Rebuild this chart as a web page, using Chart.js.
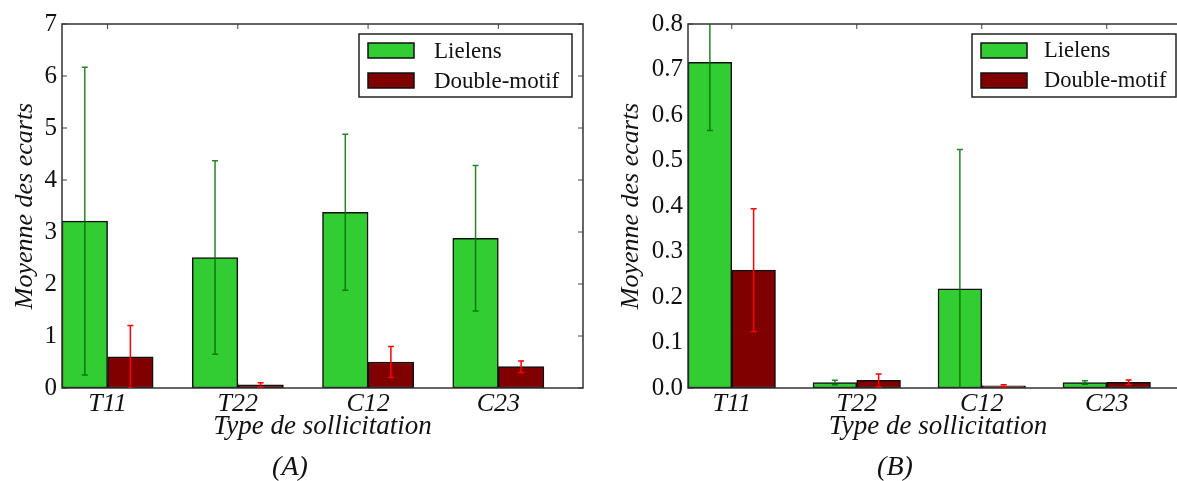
<!DOCTYPE html>
<html>
<head>
<meta charset="utf-8">
<script src="https://cdn.jsdelivr.net/npm/chart.js@4.4.0/dist/chart.umd.min.js"></script>
<style>
html, body { margin: 0; padding: 0; background: #fff; overflow: hidden; width: 1177px; height: 481px; }
.wrap { position: absolute; top: 0; height: 481px; overflow: hidden; }
#wrapA { left: 0; width: 600px; }
#wrapB { left: 600px; width: 577px; }
canvas { position: absolute; top: 0; left: 0; }
.panel { position: absolute; top: 450px; font: italic 28px 'Liberation Serif', serif; color: #111; transform: translateX(-50%); }
</style>
</head>
<body>
<div class="wrap" id="wrapA"><canvas id="chartA" width="600" height="481"></canvas></div>
<div class="wrap" id="wrapB"><canvas id="chartB" width="605" height="481"></canvas></div>
<div class="panel" style="left:290px">(A)</div>
<div class="panel" style="left:895px">(B)</div>
<script>
const categories = ['T11', 'T22', 'C12', 'C23'];
const seriesNames = ['Lielens', 'Double-motif'];

// (A)
const lielensA = [3.21, 2.51, 3.38, 2.88];
const lielensErrA = [2.96, 1.86, 1.50, 1.40];
const doubleA = [0.60, 0.06, 0.50, 0.41];
const doubleErrA = [0.60, 0.04, 0.30, 0.11];

// (B)
const lielensB = [0.716, 0.012, 0.218, 0.012];
const lielensErrB = [0.150, 0.005, 0.306, 0.004];
const doubleB = [0.259, 0.017, 0.005, 0.0125];
const doubleErrB = [0.135, 0.014, 0.002, 0.005];

const serif = "'Liberation Serif', 'DejaVu Serif', serif";
const BAR_W = 0.35;

// barres d'erreur
const errorBars = {
    id: 'errorBars',
    afterDatasetsDraw(chart) {
        const ctx = chart.ctx;
        const area = chart.chartArea;
        const y = chart.scales.y;
        ctx.save();
        ctx.beginPath();
        ctx.rect(area.left, area.top, area.width, area.height);
        ctx.clip();
        chart.data.datasets.forEach((ds, i) => {
            const meta = chart.getDatasetMeta(i);
            ctx.strokeStyle = ds.errorColor;
            ctx.lineWidth = 1.5;
            meta.data.forEach((bar, j) => {
                const v = ds.data[j].y;
                const e = ds.errors[j];
                const top = y.getPixelForValue(v + e);
                const bot = y.getPixelForValue(v - e);
                ctx.beginPath();
                ctx.moveTo(bar.x, top); ctx.lineTo(bar.x, bot);
                ctx.moveTo(bar.x - 3, top); ctx.lineTo(bar.x + 3, top);
                ctx.moveTo(bar.x - 3, bot); ctx.lineTo(bar.x + 3, bot);
                ctx.stroke();
            });
        });
        ctx.restore();
    }
};

// cadre + graduations vers l'interieur
const frame = {
    id: 'frame',
    beforeDatasetsDraw(chart) {
        const ctx = chart.ctx;
        const a = chart.chartArea;
        ctx.save();
        ctx.strokeStyle = '#444';
        ctx.lineWidth = 1;
        ctx.beginPath();
        chart.scales.x.ticks.forEach(t => {
            const px = chart.scales.x.getPixelForValue(t.value);
            ctx.moveTo(px, a.top); ctx.lineTo(px, a.top + 5);
            ctx.moveTo(px, a.bottom); ctx.lineTo(px, a.bottom - 5);
        });
        chart.scales.y.ticks.forEach(t => {
            const py = chart.scales.y.getPixelForValue(t.value);
            ctx.moveTo(a.left, py); ctx.lineTo(a.left + 5, py);
            ctx.moveTo(a.right, py); ctx.lineTo(a.right - 5, py);
        });
        ctx.stroke();
        ctx.restore();
    },
    afterDatasetsDraw(chart) {
        const ctx = chart.ctx;
        const a = chart.chartArea;
        ctx.save();
        ctx.strokeStyle = '#333';
        ctx.lineWidth = 1.5;
        ctx.strokeRect(a.left, a.top, a.width, a.height);
        ctx.restore();
    }
};

// legende dans le coin haut droit
const boxLegend = {
    id: 'boxLegend',
    afterDraw(chart, args, opts) {
        const ctx = chart.ctx;
        const a = chart.chartArea;
        const w = opts.width;
        const left = a.right - opts.inset - w;
        const top = a.top + 10;
        ctx.save();
        ctx.fillStyle = '#fff';
        ctx.fillRect(left, top, w, 63);
        ctx.strokeStyle = '#222';
        ctx.lineWidth = 1.5;
        ctx.strokeRect(left, top, w, 63);
        chart.data.datasets.forEach((ds, i) => {
            const cy = top + 16.5 + i * 30;
            ctx.fillStyle = ds.backgroundColor;
            ctx.fillRect(left + 9, cy - 7.5, 46, 15);
            ctx.strokeStyle = '#111';
            ctx.strokeRect(left + 9, cy - 7.5, 46, 15);
            ctx.fillStyle = '#111';
            ctx.font = opts.fontSize + 'px ' + serif;
            ctx.textBaseline = 'middle';
            ctx.fillText(ds.label, left + opts.textX, cy + 1);
        });
        ctx.restore();
    }
};

function makeChart(id, lielens, lielensErr, dbl, dblErr, cfg) {
    return new Chart(document.getElementById(id).getContext('2d'), {
        type: 'bar',
        data: {
            datasets: [{
                label: seriesNames[0],
                data: lielens.map((v, i) => ({ x: i + BAR_W / 2, y: v })),
                errors: lielensErr,
                errorColor: 'rgba(0, 110, 0, 0.85)',
                backgroundColor: '#32cd32',
                borderColor: '#111',
                borderWidth: 1.5,
                borderSkipped: false
            }, {
                label: seriesNames[1],
                data: dbl.map((v, i) => ({ x: i + BAR_W * 1.5, y: v })),
                errors: dblErr,
                errorColor: '#ff0000',
                backgroundColor: '#800000',
                borderColor: '#111',
                borderWidth: 1.5,
                borderSkipped: false
            }]
        },
        options: {
            responsive: false,
            animation: false,
            grouped: false,
            categoryPercentage: 1,
            barPercentage: 1,
            layout: { padding: { top: 24, right: 17, bottom: 0, left: 0 } },
            plugins: {
                legend: { display: false },
                tooltip: { enabled: false },
                boxLegend: cfg.legend
            },
            scales: {
                x: {
                    type: 'linear',
                    min: 0,
                    max: 4,
                    offset: false,
                    grid: { display: false, drawTicks: false },
                    border: { display: false },
                    afterBuildTicks: s => { s.ticks = categories.map((c, i) => ({ value: i + BAR_W })); },
                    afterFit: s => { s.height = 93; },
                    ticks: {
                        autoSkip: false,
                        maxRotation: 0,
                        padding: 1,
                        color: '#111',
                        font: { family: serif, style: 'italic', size: 26 },
                        callback: (v, i) => categories[i]
                    },
                    title: {
                        display: true,
                        text: 'Type de sollicitation',
                        color: '#111',
                        font: { family: serif, style: 'italic', size: 27 },
                        padding: { top: 0, bottom: 38 }
                    }
                },
                y: {
                    min: 0,
                    max: cfg.yMax,
                    grid: { display: false, drawTicks: false },
                    border: { display: false },
                    afterFit: s => { s.width = cfg.axisWidth; },
                    ticks: {
                        stepSize: cfg.step,
                        padding: 5,
                        color: '#111',
                        font: { family: serif, size: 25 },
                        callback: v => v.toFixed(cfg.decimals)
                    },
                    title: {
                        display: true,
                        text: 'Moyenne des ecarts',
                        color: '#111',
                        font: { family: serif, style: 'italic', size: 26 },
                        padding: { top: cfg.titlePad, bottom: 0 }
                    }
                }
            }
        },
        plugins: [frame, errorBars, boxLegend]
    });
}

const chartA = makeChart('chartA', lielensA, lielensErrA, doubleA, doubleErrA, {
    yMax: 7, step: 1, decimals: 0, axisWidth: 62, titlePad: 10,
    legend: { width: 213, inset: 11, textX: 75, fontSize: 23 }
});

const chartB = makeChart('chartB', lielensB, lielensErrB, doubleB, doubleErrB, {
    yMax: 0.8, step: 0.1, decimals: 1, axisWidth: 88, titlePad: 16,
    legend: { width: 204, inset: 12, textX: 72, fontSize: 22.5 }
});
</script>
</body>
</html>
